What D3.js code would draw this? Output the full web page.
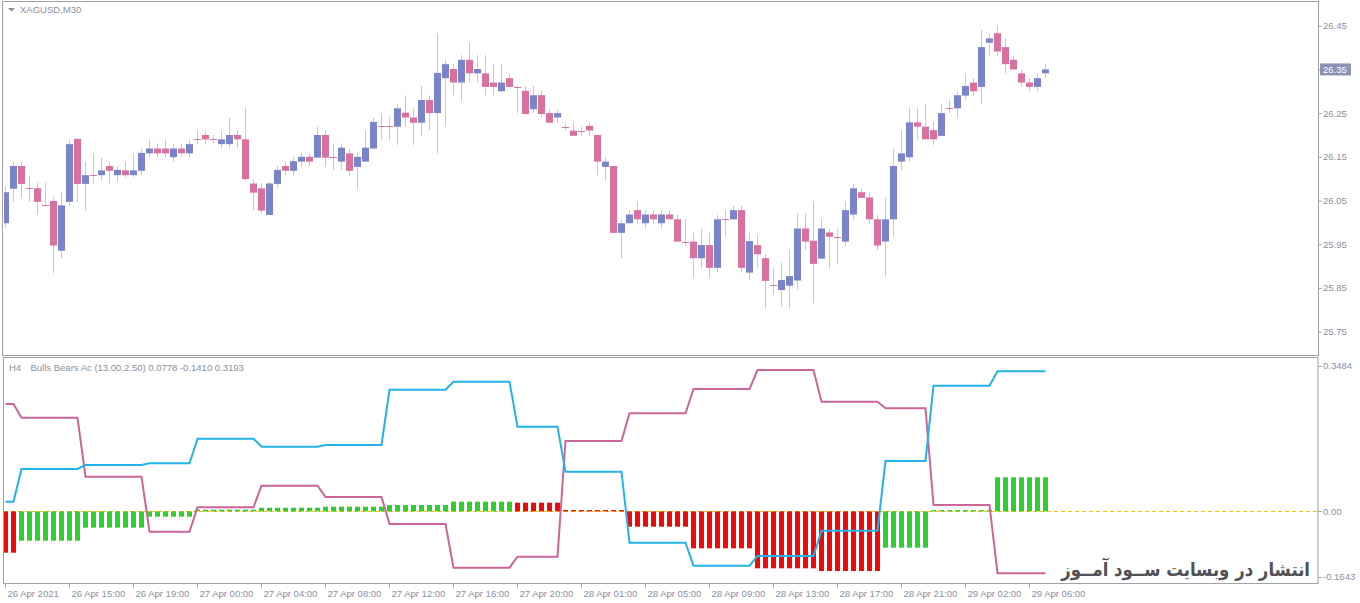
<!DOCTYPE html>
<html lang="en">
<head>
<meta charset="UTF-8">
<title>XAGUSD,M30 - Bulls Bears Ac</title>
<script src="https://d3js.org/d3.v7.min.js"></script>
<style>
    body { margin: 0; background: #ffffff; }
    svg { display: block; font-family: "Liberation Sans", Arial, sans-serif; }
    .axis text { fill: #8a90a4; font-size: 9.5px; }
    .axis path, .axis line { stroke: #a4a6b0; }
    .label { fill: #8a90a4; font-size: 9.5px; }
</style>
</head>
<body>
<svg id="chart" width="1360" height="603"></svg>
<script>
// XAGUSD M30 candles (open, high, low, close)
const candleOpen = [25.998,26.077,26.129,26.078,26.078,26.039,26.049,25.935,26.047,26.191,
    26.088,26.108,26.108,26.129,26.108,26.119,26.108,26.118,26.158,26.169,
    26.169,26.149,26.169,26.158,26.190,26.200,26.190,26.179,26.179,26.200,
    26.190,26.089,26.078,26.017,26.088,26.129,26.118,26.139,26.150,26.148,
    26.200,26.149,26.139,26.158,26.127,26.139,26.169,26.221,26.221,26.219,
    26.251,26.240,26.228,26.280,26.250,26.330,26.351,26.320,26.372,26.341,
    26.341,26.320,26.300,26.330,26.310,26.301,26.259,26.291,26.250,26.240,
    26.219,26.210,26.210,26.221,26.200,26.127,26.129,25.976,25.998,26.028,
    25.998,26.018,25.998,26.018,26.007,25.956,25.956,25.918,25.948,25.896,
    26.007,26.007,26.028,25.885,25.948,25.918,25.856,25.845,25.855,25.867,
    25.986,25.958,25.917,25.977,25.967,25.956,26.018,26.069,26.057,26.007,
    25.956,26.007,26.139,26.149,26.229,26.219,26.211,26.198,26.261,26.261,
    26.290,26.320,26.310,26.411,26.433,26.401,26.372,26.341,26.320,26.310,
    26.341];
const candleHigh = [26.083,26.139,26.139,26.106,26.091,26.091,26.059,26.069,26.190,26.193,
    26.139,26.158,26.148,26.139,26.129,26.139,26.158,26.169,26.190,26.181,
    26.190,26.179,26.179,26.190,26.210,26.210,26.200,26.210,26.240,26.210,
    26.263,26.099,26.089,26.093,26.129,26.139,26.150,26.159,26.159,26.219,
    26.211,26.179,26.181,26.169,26.158,26.211,26.240,26.250,26.242,26.270,
    26.291,26.261,26.312,26.291,26.433,26.372,26.362,26.383,26.412,26.383,
    26.383,26.362,26.362,26.341,26.312,26.312,26.312,26.301,26.259,26.259,
    26.228,26.228,26.219,26.228,26.200,26.149,26.129,26.007,26.028,26.047,
    26.028,26.028,26.028,26.028,26.017,26.007,25.976,25.986,25.976,26.017,
    26.028,26.038,26.038,25.976,25.971,25.929,25.896,25.908,25.937,26.021,
    26.021,26.049,26.008,25.986,25.986,26.047,26.089,26.078,26.069,26.017,
    26.057,26.169,26.211,26.263,26.261,26.270,26.230,26.270,26.280,26.301,
    26.341,26.330,26.440,26.433,26.450,26.421,26.381,26.350,26.330,26.341,
    26.362];
const candleLow = [25.987,26.047,26.057,26.047,26.017,26.037,25.884,25.918,26.037,26.047,
    26.027,26.089,26.097,26.089,26.093,26.103,26.104,26.108,26.149,26.149,
    26.149,26.139,26.149,26.149,26.179,26.179,26.181,26.169,26.169,26.169,
    26.097,26.028,26.021,26.017,26.078,26.107,26.107,26.127,26.129,26.148,
    26.127,26.120,26.120,26.107,26.077,26.139,26.169,26.188,26.188,26.177,
    26.219,26.177,26.198,26.211,26.158,26.219,26.291,26.278,26.320,26.320,
    26.291,26.291,26.300,26.310,26.250,26.248,26.250,26.240,26.228,26.228,
    26.210,26.198,26.198,26.198,26.108,26.097,25.976,25.918,25.998,25.998,
    25.986,25.998,25.986,26.007,25.956,25.946,25.874,25.895,25.874,25.885,
    25.967,26.007,25.885,25.868,25.896,25.803,25.835,25.807,25.803,25.847,
    25.937,25.815,25.917,25.895,25.906,25.946,26.005,26.056,25.998,25.937,
    25.876,25.967,26.120,26.139,26.188,26.190,26.177,26.198,26.250,26.240,
    26.280,26.290,26.270,26.381,26.381,26.341,26.350,26.310,26.300,26.300,
    26.330];
const candleClose = [26.069,26.129,26.088,26.078,26.047,26.039,25.947,26.039,26.179,26.088,
    26.108,26.108,26.119,26.118,26.120,26.108,26.119,26.159,26.169,26.158,
    26.158,26.169,26.158,26.179,26.190,26.190,26.190,26.190,26.200,26.190,
    26.099,26.068,26.027,26.089,26.120,26.118,26.140,26.150,26.139,26.200,
    26.148,26.149,26.171,26.118,26.150,26.171,26.230,26.221,26.221,26.261,
    26.240,26.228,26.280,26.250,26.342,26.362,26.320,26.372,26.341,26.351,
    26.310,26.310,26.320,26.310,26.310,26.248,26.291,26.248,26.228,26.250,
    26.219,26.198,26.210,26.210,26.139,26.139,25.976,25.998,26.018,26.007,
    26.018,26.007,26.018,26.007,25.956,25.956,25.918,25.948,25.896,26.007,
    26.007,26.028,25.896,25.957,25.927,25.866,25.856,25.868,25.877,25.986,
    25.956,25.905,25.986,25.967,25.967,26.028,26.078,26.056,26.007,25.947,
    26.007,26.129,26.158,26.229,26.219,26.190,26.190,26.250,26.261,26.291,
    26.312,26.300,26.401,26.421,26.391,26.362,26.350,26.320,26.310,26.330,
    26.350];
const currentPrice = 26.35;
const priceTicks = [25.75, 25.85, 25.95, 26.05, 26.15, 26.25, 26.35, 26.45];

// Bulls Bears Ac, H4 values shown on the M30 chart
const h4BarCounts = [2, 8, 8, 6, 8, 8, 8, 8, 8, 6, 8, 8, 8, 8, 8, 6, 8, 7];
const histH4 = [-0.0941, -0.0668, -0.0371, -0.0121, 0.004, 0.0084, 0.0107, 0.0146, 0.0221,
    0.0198, 0.003, -0.0349, -0.0841, -0.1297, -0.1358, -0.0827, 0.003, 0.0778];
const bearsH4 = [0.2448, 0.2135, 0.0791, -0.0463, 0.0093, 0.0586, 0.0328, -0.0287, -0.1283,
    -0.1032, 0.1604, 0.2236, 0.2789, 0.3222, 0.25, 0.235, 0.0146, -0.1410];
const bullsH4 = [0.0221, 0.0966, 0.1057, 0.1096, 0.1657, 0.1475, 0.1513, 0.2774, 0.2956,
    0.193, 0.0905, -0.0713, -0.1237, -0.1016, -0.044, 0.1149, 0.2865, 0.3193];
const indMin = -0.1643, indMax = 0.3484;

const timeLabels = ["26 Apr 2021", "26 Apr 15:00", "26 Apr 19:00", "27 Apr 00:00", "27 Apr 04:00",
    "27 Apr 08:00", "27 Apr 12:00", "27 Apr 16:00", "27 Apr 20:00", "28 Apr 01:00",
    "28 Apr 05:00", "28 Apr 09:00", "28 Apr 13:00", "28 Apr 17:00", "28 Apr 21:00",
    "29 Apr 02:00", "29 Apr 06:00"];
const barsPerLabel = 8;

// spread H4 values over the M30 bars they cover
function expand(vals) {
    const out = [];
    vals.forEach((v, k) => { for (let j = 0; j < h4BarCounts[k]; j++) out.push(v); });
    return out;
}
const hist = expand(histH4), bears = expand(bearsH4), bulls = expand(bullsH4);

const n = candleOpen.length;
const left = 4, right = 1318;
const topPanel = { y0: 3, y1: 355 };
const botPanel = { y0: 358.5, y1: 583.5 };

const svg = d3.select("#chart");

const x = d3.scaleLinear().domain([0, n - 1]).range([5.5, 5.5 + 8 * (n - 1)]);
const yP = d3.scaleLinear().domain([25.6965, 26.502]).range([topPanel.y1, topPanel.y0]);
const yI = d3.scaleLinear().domain([indMin, indMax]).range([botPanel.y1, botPanel.y0]);

const defs = svg.append("defs");
defs.append("clipPath").attr("id", "clipTop").append("rect")
    .attr("x", left).attr("y", topPanel.y0).attr("width", right - left).attr("height", topPanel.y1 - topPanel.y0);
defs.append("clipPath").attr("id", "clipBot").append("rect")
    .attr("x", left).attr("y", botPanel.y0).attr("width", right - left).attr("height", botPanel.y1 - botPanel.y0);

// panel frames
svg.append("rect").attr("x", 2.5).attr("y", 1.5).attr("width", right - 2).attr("height", 354)
    .attr("fill", "none").attr("stroke", "#a0a0a8");
svg.append("rect").attr("x", 3.5).attr("y", 357.5).attr("width", right - 3.5).attr("height", botPanel.y1 - 357.5)
    .attr("fill", "none").attr("stroke", "#a0a0a8");

// candles
const cg = svg.append("g").attr("clip-path", "url(#clipTop)");
const idx = d3.range(n);
cg.selectAll(".wick").data(idx).join("line")
    .attr("x1", i => x(i)).attr("x2", i => x(i))
    .attr("y1", i => yP(candleHigh[i])).attr("y2", i => yP(candleLow[i]))
    .attr("stroke", "#c6c8d2").attr("stroke-width", 1);
cg.selectAll(".body").data(idx.filter(i => candleOpen[i] !== candleClose[i])).join("rect")
    .attr("x", i => x(i) - 3.5).attr("width", 7)
    .attr("y", i => yP(Math.max(candleOpen[i], candleClose[i])))
    .attr("height", i => Math.max(1, Math.abs(yP(candleOpen[i]) - yP(candleClose[i]))))
    .attr("fill", i => candleClose[i] > candleOpen[i] ? "#7a84ca" : "#da70a0");
cg.selectAll(".doji").data(idx.filter(i => candleOpen[i] === candleClose[i])).join("line")
    .attr("x1", i => x(i) - 3.5).attr("x2", i => x(i) + 3.5)
    .attr("y1", i => Math.round(yP(candleOpen[i])) + 0.5).attr("y2", i => Math.round(yP(candleOpen[i])) + 0.5)
    .attr("stroke", "#cc7aa2").attr("stroke-width", 1);

// price axis
svg.append("g").attr("class", "axis").attr("transform", `translate(${right},0)`)
    .call(d3.axisRight(yP).tickValues(priceTicks).tickSize(4).tickPadding(1).tickFormat(d3.format(".2f")))
    .call(g => g.select(".domain").remove());
svg.append("rect").attr("x", 1320).attr("y", yP(currentPrice) - 6).attr("width", 31).attr("height", 12)
    .attr("fill", "#8a93b6");
svg.append("text").attr("x", 1323).attr("y", yP(currentPrice)).attr("dy", "0.35em")
    .attr("fill", "#ffffff").style("font-size", "9.5px").text(d3.format(".2f")(currentPrice));

// titles
svg.append("path").attr("d", "M8,8 L15,8 L11.5,11.5 Z").attr("fill", "#8a90a4");
svg.append("text").attr("class", "label").attr("x", 20).attr("y", 13).text("XAGUSD,M30");
svg.append("text").attr("class", "label").attr("x", 9).attr("y", 370.5).text("H4");
svg.append("text").attr("class", "label").attr("x", 30.5).attr("y", 370.5)
    .text(`Bulls Bears Ac (13.00,2.50) ${histH4[histH4.length - 1].toFixed(4)} ${bearsH4[bearsH4.length - 1].toFixed(4)} ${bullsH4[bullsH4.length - 1].toFixed(4)}`);

// indicator panel
const ig = svg.append("g").attr("clip-path", "url(#clipBot)");
ig.append("line").attr("x1", left).attr("x2", right).attr("y1", Math.round(yI(0)) + 0.5).attr("y2", Math.round(yI(0)) + 0.5)
    .attr("stroke", "#f5c400").attr("stroke-dasharray", "4,3");
ig.selectAll(".bar").data(idx).join("rect")
    .attr("x", i => x(i) - 2.5).attr("width", 5)
    .attr("y", i => yI(Math.max(0, hist[i])))
    .attr("height", i => Math.max(1, Math.abs(yI(hist[i]) - yI(0))))
    .attr("fill", i => {
        let k = i;
        while (k > 0 && hist[k - 1] === hist[i]) k--;
        return k > 0 && hist[i] > hist[k - 1] ? "#32cd32" : "#ee0a0a";
    });
const line = d3.line().x((d, i) => x(i)).y(d => yI(d));
ig.append("path").datum(bears).attr("d", line).attr("fill", "none").attr("stroke", "#cc6699").attr("stroke-width", 2);
ig.append("path").datum(bulls).attr("d", line).attr("fill", "none").attr("stroke", "#22b4e6").attr("stroke-width", 2);

// indicator scale labels
[[indMax, 366], [0, yI(0)], [indMin, 577]].forEach(([v, y]) => {
    svg.append("line").attr("x1", right).attr("x2", right + 4).attr("y1", Math.round(y) + 0.5).attr("y2", Math.round(y) + 0.5)
        .attr("stroke", "#a4a6b0");
    svg.append("text").attr("class", "label").attr("x", 1323).attr("y", y).attr("dy", "0.35em")
        .text(v === 0 ? "0.00" : v.toFixed(4));
});

// time axis
const tickBars = timeLabels.map((d, k) => k * barsPerLabel);
svg.append("g").attr("class", "axis").attr("transform", `translate(-0.5,${botPanel.y1})`)
    .call(d3.axisBottom(x).tickValues(tickBars).tickSize(4).tickPadding(3)
        .tickFormat((d, k) => timeLabels[k]))
    .call(g => g.select(".domain").remove())
    .call(g => g.selectAll("text").attr("text-anchor", "start").attr("dx", 2));

// watermark
svg.append("text").attr("transform", "translate(1310,576) scale(0.87,1)").attr("text-anchor", "end")
    .style("font-family", "'DejaVu Sans', sans-serif").style("font-size", "19px").style("font-weight", "bold")
    .attr("fill", "#505256").text("انتشار در وبسایت ســود آمــوز");
</script>
</body>
</html>
